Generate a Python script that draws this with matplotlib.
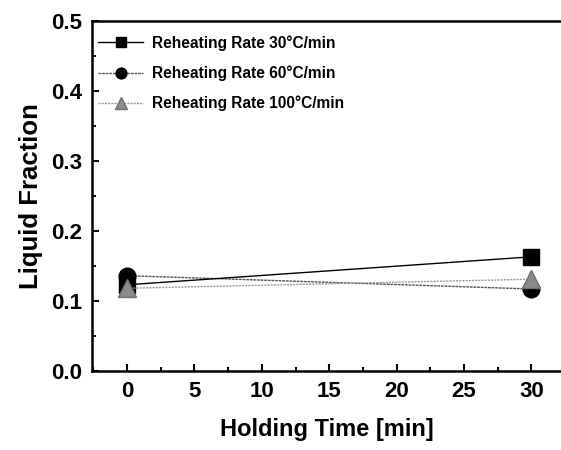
import matplotlib
matplotlib.use("Agg")
import matplotlib.pyplot as plt
from matplotlib.ticker import MultipleLocator

# Liquid fraction after isothermal holding, per reheating rate
holding_time = [0, 30]
rate_labels = ["Reheating Rate 30°C/min",
               "Reheating Rate 60°C/min",
               "Reheating Rate 100°C/min"]
frac_30 = [0.123, 0.163]
frac_60 = [0.136, 0.117]
frac_100 = [0.118, 0.131]

plt.rcParams["font.family"] = ["Liberation Sans", "DejaVu Sans"]
plt.rcParams["font.weight"] = "bold"

fig = plt.figure(figsize=(5.61, 4.5), dpi=100)
ax = fig.add_axes([0.164, 0.176, 0.836, 0.777])

ax.plot(holding_time, frac_30, color="black", lw=1.0, marker="s", ms=12,
        mfc="black", mec="black", label=rate_labels[0], zorder=3)
ax.plot(holding_time, frac_60, color="#555555", lw=1.0, ls=(0, (2, 0.6)),
        marker="o", ms=12, mfc="black", mec="black", label=rate_labels[1], zorder=2)
ax.plot(holding_time, frac_100, color="#999999", lw=1.0, ls=(0, (1.5, 0.8)),
        marker="^", ms=13, mfc="#8a8a8a", mec="#707070", label=rate_labels[2], zorder=4)

ax.set_xlim(-2.6, 32.2)
ax.set_ylim(0.0, 0.5)
ax.xaxis.set_major_locator(MultipleLocator(5))
ax.xaxis.set_minor_locator(MultipleLocator(2.5))
ax.yaxis.set_major_locator(MultipleLocator(0.1))
ax.yaxis.set_minor_locator(MultipleLocator(0.05))
ax.yaxis.set_major_formatter(plt.FormatStrFormatter("%.1f"))

ax.tick_params(which="both", direction="in", top=False, right=False,
               labelsize=16, width=1.5)
ax.tick_params(which="major", length=5, pad=7)
ax.tick_params(which="minor", length=3)
for side in ["left", "bottom", "top"]:
    ax.spines[side].set_linewidth(1.8)
ax.spines["right"].set_visible(False)

ax.set_xlabel("Holding Time [min]", fontsize=17, fontweight="bold", labelpad=12)
ax.set_ylabel("Liquid Fraction", fontsize=18.5, fontweight="bold", labelpad=6)

leg = ax.legend(loc="upper left", frameon=False, fontsize=11.2, handlelength=2.9,
                handletextpad=0.55, labelspacing=0.95, borderaxespad=0.0,
                borderpad=0.0, bbox_to_anchor=(0.013, 0.96), markerscale=0.65)
for t in leg.get_texts():
    t.set_fontweight("bold")

fig.savefig("out.png", dpi=100)
